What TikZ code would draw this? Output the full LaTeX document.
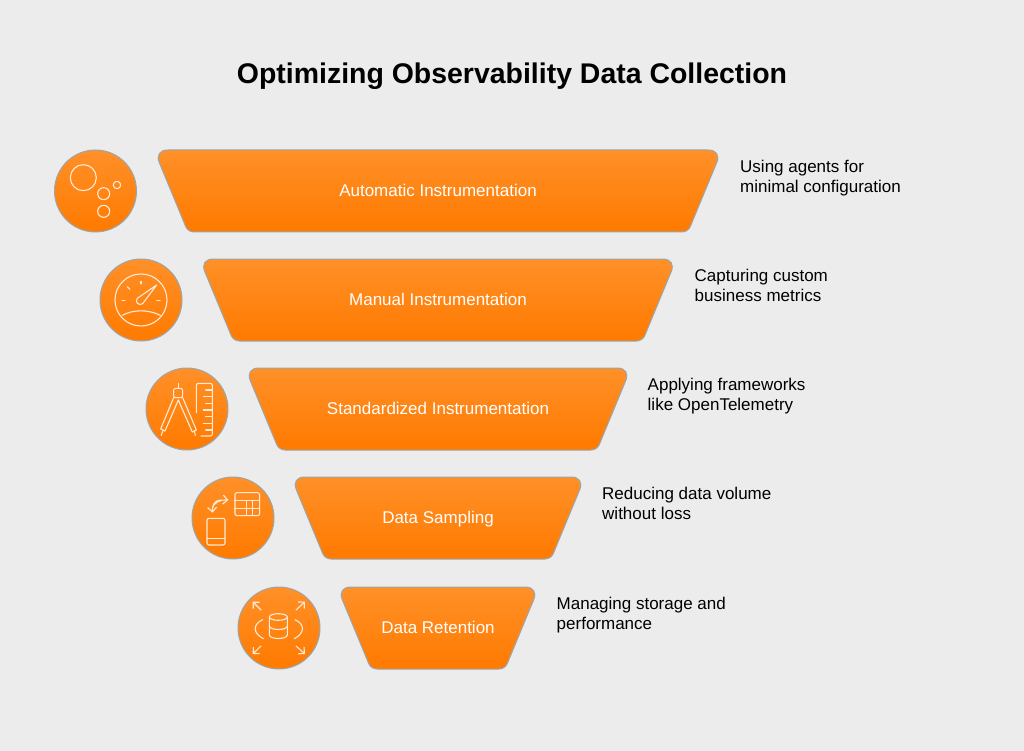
\documentclass[tikz,border=0pt]{standalone}
\usepackage{fontspec}
\setmainfont{Liberation Sans}
\usetikzlibrary{arrows.meta}
\definecolor{bgc}{HTML}{ECECEC}
\definecolor{edgec}{HTML}{9CA6AC}
\definecolor{toporange}{HTML}{FF9028}
\definecolor{botorange}{HTML}{FF7A00}
\definecolor{iconc}{HTML}{FFEBD8}
\tikzset{
  x=1pt,y=-1pt,
  funnelbar/.style={draw=edgec,line width=1pt,top color=toporange,bottom color=botorange},
  badge/.style={draw=edgec,line width=1pt,top color=toporange,bottom color=botorange},
  barlabel/.style={text=white,font=\fontsize{17}{20}\selectfont,anchor=base,inner sep=0pt},
  sidenote/.style={text=black,font=\fontsize{17}{20}\selectfont,anchor=west,align=left,inner sep=0pt},
  icon/.style={draw=iconc,line width=1.1pt,line cap=round,line join=round,fill=none},
  iconarrow/.style={icon,-{Straight Barb[length=4.5pt,width=9pt,line width=1.1pt]}},
  zoomed/.style={x=0.3333pt,y=-0.3333pt}
}
\newcommand{\funnelrow}[7]{% name, cy, top half width, text, note-x, note line 1, note line 2
  \pgfmathsetmacro{\ytop}{#2-41}\pgfmathsetmacro{\ybot}{#2+41}
  \pgfmathsetmacro{\xa}{438-#3}\pgfmathsetmacro{\xb}{438+#3}
  \pgfmathsetmacro{\xc}{438+#3-34}\pgfmathsetmacro{\xd}{438-#3+34}
  \path[funnelbar] (\xa+14,\ytop) -- (\xb-14,\ytop)
     .. controls (\xb-5.6,\ytop) and (\xb-2.16,\ytop+5.16) .. (\xb-5.4,\ytop+12.9)
     -- (\xc+2.3,\ybot-5.5) .. controls (\xc+0.92,\ybot-2.2) and (\xc-2.4,\ybot) .. (\xc-6,\ybot)
     -- (\xd+6,\ybot) .. controls (\xd+2.4,\ybot) and (\xd-0.92,\ybot-2.2) .. (\xd-2.3,\ybot-5.5)
     -- (\xa+5.4,\ytop+12.9) .. controls (\xa+2.16,\ytop+5.16) and (\xa+5.6,\ytop) .. (\xa+14,\ytop) -- cycle;
  \node[barlabel] (#1) at (438,#2+5.5) {#4};
  \node[sidenote] (#1note) at (#5,#2-12.3) {\strut #6\\\strut #7};
}
\begin{document}
\begin{tikzpicture}
\useasboundingbox (0,0) rectangle (1024,751);
\fill[bgc] (0,0) rectangle (1024,751);
\node[font=\fontsize{28.45}{32}\selectfont\bfseries,text=black,inner sep=0pt,anchor=base] (title) at (512,84) {Optimizing Observability Data Collection};

\funnelrow{auto}{191}{284}{Automatic Instrumentation}{740}{Using agents for}{minimal configuration}
\funnelrow{manual}{300}{238.5}{Manual Instrumentation}{694.5}{Capturing custom}{business metrics}
\funnelrow{std}{409}{193}{Standardized Instrumentation}{647.5}{Applying frameworks}{like OpenTelemetry}
\funnelrow{samp}{518}{147}{Data Sampling}{602}{Reducing data volume}{without loss}
\funnelrow{ret}{628}{101}{Data Retention}{556.5}{Managing storage and}{performance}

\path[badge] (95.5,191) circle[radius=41];
\path[badge] (141,300) circle[radius=41];
\path[badge] (187,409) circle[radius=41];
\path[badge] (233,518) circle[radius=41];
\path[badge] (279,628) circle[radius=41];

% icon 1: bubbles
\begin{scope}[shift={(40,140)},zoomed]
\draw[icon] (130,113) circle[radius=13pt];
\draw[icon] (191,161) circle[radius=6pt];
\draw[icon] (231,135) circle[radius=3.7pt];
\draw[icon] (191,214) circle[radius=6pt];
% icon 2: gauge
\draw[icon] (303,480) circle[radius=26pt];
\draw[icon] (350,435) -- (292,475) .. controls (283,484) and (296,500) .. (308,491) -- cycle;
\draw[icon] (303,424) -- (303,432);
\draw[icon] (262,440) -- (270,448);
\draw[icon] (246,481) -- (255,481);
\draw[icon] (351,481) -- (360,481);
\draw[icon] (247,526) .. controls (280,508) and (325,508) .. (361,526);
\end{scope}
% icons 3 and 4
\begin{scope}[shift={(135,360)},zoomed]
\draw[icon,rounded corners=2pt] (116,85) rectangle (143,113);
\draw[icon] (130,70) -- (130,85);
\draw[icon] (116,113) -- (77,207) -- (90,213) -- (130,120) -- (172,216) -- (184,210) -- (143,113);
\draw[icon] (84,210) -- (79,226);
\draw[icon] (178,213) -- (181,226);
\draw[icon,rounded corners=2pt] (184,158) -- (184,70) -- (232,70) -- (232,228) -- (198,228);
\draw[icon] (232,90) -- (212,90);
\draw[icon] (232,110) -- (205,110);
\draw[icon] (232,130) -- (212,130);
\draw[icon] (232,150) -- (205,150);
\draw[icon] (232,170) -- (212,170);
\draw[icon] (232,190) -- (205,190);
\draw[icon] (232,210) -- (212,210);
% icon 4
\draw[icon,rounded corners=2pt] (300,398) rectangle (374,467);
\draw[icon] (300,422) -- (374,422);
\draw[icon] (300,445) -- (374,445);
\draw[icon] (335,422) -- (335,467);
\draw[icon] (352,422) -- (352,467);
\draw[icon,rounded corners=2pt] (216,475) rectangle (270,555);
\draw[icon] (216,535) -- (270,535);
\draw[iconarrow] (258,420) .. controls (240,420) and (231,435) .. (232,458);
\draw[iconarrow] (232,445) .. controls (234,430) and (255,418) .. (280,420);
\end{scope}
% icon 5: database
\begin{scope}[shift={(230,580)},zoomed]
\draw[icon] (145,111) ellipse[x radius=9pt,y radius=3.3pt];
\draw[icon] (118,111) -- (118,165) .. controls (120,179) and (170,179) .. (172,165) -- (172,111);
\draw[icon] (118,138) .. controls (120,152) and (170,152) .. (172,138);
\draw[icon] (98,119) .. controls (68,132) and (68,160) .. (100,176);
\draw[icon] (195,119) .. controls (225,132) and (225,160) .. (193,176);
\draw[iconarrow] (93,90) -- (68,65);
\draw[iconarrow] (198,90) -- (225,65);
\draw[iconarrow] (93,198) -- (68,222);
\draw[iconarrow] (198,198) -- (225,222);
\end{scope}
\end{tikzpicture}
\end{document}
